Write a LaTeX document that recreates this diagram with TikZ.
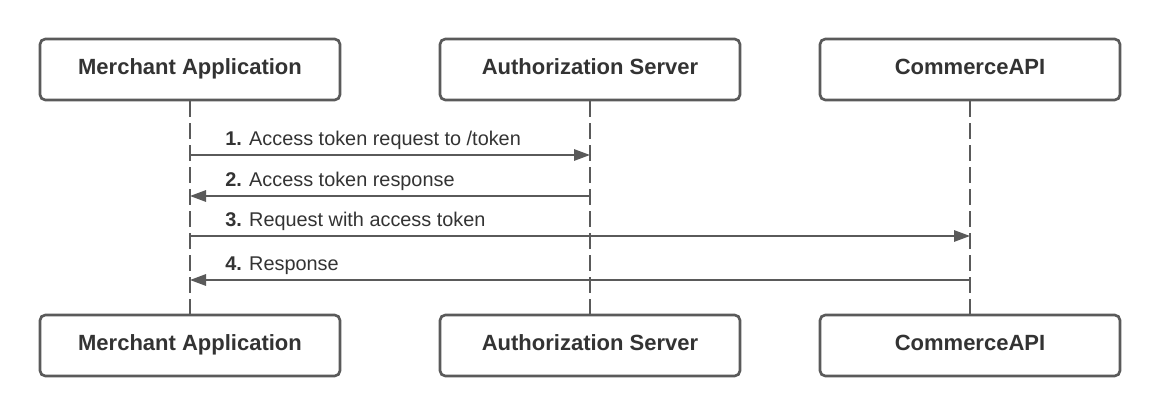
\documentclass[tikz,border=0pt]{standalone}
\usepackage{fontspec}
\setmainfont{Liberation Sans}
\usetikzlibrary{arrows.meta}
\definecolor{ink}{HTML}{333333}
\definecolor{wire}{HTML}{5A5A5A}

\tikzset{
  actor/.style={draw=wire,line width=2pt,rounded corners=4pt,fill=white,
    minimum width=225pt,minimum height=45.75pt,inner sep=0pt,
    text height=12pt,text depth=3.75pt,
    font=\fontsize{16.5}{20}\selectfont\bfseries,text=ink},
  life/.style={draw=wire,line width=1.1pt,dash pattern=on 12pt off 4.5pt},
  msg/.style={draw=wire,line width=1.5pt,-{Triangle[length=12pt,width=8.5pt]}},
  msglabel/.style={anchor=base west,inner sep=0pt,
    font=\fontsize{14.9}{17}\selectfont,text=ink}
}

\begin{document}
\begin{tikzpicture}[x=0.75pt,y=-0.75pt]
  \useasboundingbox (0,0) rectangle (1160,416);

  % participants, top and bottom
  \node[actor] (mer)  at (190,69.5) {Merchant Application};
  \node[actor] (auth) at (590,69.5) {Authorization Server};
  \node[actor] (api)  at (970,69.5) {CommerceAPI};
  \node[actor] (merB)  at (190,345.5) {Merchant Application};
  \node[actor] (authB) at (590,345.5) {Authorization Server};
  \node[actor] (apiB)  at (970,345.5) {CommerceAPI};

  % lifelines
  \draw[life] (mer.south) -- (merB.north);
  \draw[life] (auth.south) -- (authB.north);
  \draw[life] (api.south) -- (apiB.north);

  % message points on the lifelines
  \coordinate (mer1)  at (mer.south |- 0,155);
  \coordinate (auth1) at (auth.south |- 0,155);
  \coordinate (mer2)  at (mer.south |- 0,196);
  \coordinate (auth2) at (auth.south |- 0,196);
  \coordinate (mer3)  at (mer.south |- 0,236);
  \coordinate (api3)  at (api.south |- 0,236);
  \coordinate (mer4)  at (mer.south |- 0,280);
  \coordinate (api4)  at (api.south |- 0,280);

  % messages
  \draw[msg] (mer1) -- (auth1);
  \node[msglabel] (lab1) at (225,146) {\textbf{1.} Access token request to /token};
  \draw[msg] (auth2) -- (mer2);
  \node[msglabel] (lab2) at (225,187) {\textbf{2.} Access token response};
  \draw[msg] (mer3) -- (api3);
  \node[msglabel] (lab3) at (225,227) {\textbf{3.} Request with access token};
  \draw[msg] (api4) -- (mer4);
  \node[msglabel] (lab4) at (225,271) {\textbf{4.} Response};
\end{tikzpicture}
\end{document}
